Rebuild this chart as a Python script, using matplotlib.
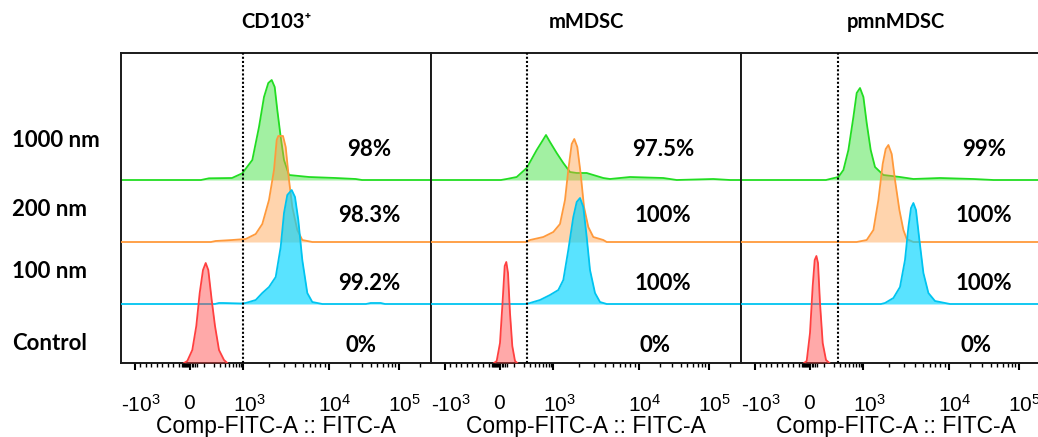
import numpy as np
import matplotlib
matplotlib.use('Agg')
import matplotlib.pyplot as plt
import matplotlib.transforms as mtransforms

plt.rcParams['mathtext.fontset'] = 'custom'
plt.rcParams['mathtext.rm'] = 'Liberation Sans'
plt.rcParams['mathtext.default'] = 'regular'

# ---- data (x in display channels, y in counts normalised to mode) ----
panels = ['CD103\u207a', 'mMDSC', 'pmnMDSC']
rows = ['1000 nm', '200 nm', '100 nm', 'Control']

cd103_1000_x = [80, 88, 111, 121.3, 131.3, 138, 143, 147.3, 150.7, 153.7, 156.3, 159.7, 163, 168, 188, 214.7, 234.7, 241]
cd103_1000_y = [0, 1.7, 2, 6.7, 20, 53, 83, 97, 100, 93, 70, 43, 20, 5, 3, 2, 1, 0]
cd103_200_x = [90, 94.7, 111.3, 124.7, 134.7, 141.3, 148, 153, 155.7, 157.3, 162, 164.7, 168, 171.3, 176.3, 181.3, 191.3]
cd103_200_y = [0, 1, 2, 3, 8, 18, 42, 72, 102, 106, 106, 95, 62, 35, 12, 2, 0]
cd103_100_x = [94, 98, 102, 120, 124.7, 134.7, 141.3, 148, 154.7, 159.7, 163, 166.3, 170.7, 174, 177.3, 181.3, 186.3, 191.3, 201.3, 245, 249.7, 254.7, 259.7, 264]
cd103_100_y = [0, 1, 1, 0.5, 1, 4, 11, 17, 27, 57, 91, 109, 114, 107, 84, 44, 11, 2, 0, 0, 1, 1, 1, 0]
cd103_ctrl_x = [63, 66.3, 71.3, 75.3, 78.7, 82, 84.7, 87.3, 90.7, 94, 98, 103, 106.3]
cd103_ctrl_y = [0, 2, 13, 37, 70, 93, 100, 93, 63, 37, 13, 3, 0]

mmdsc_1000_x = [70, 75.7, 85.7, 95.7, 105.7, 110.7, 115, 119, 125.7, 132.3, 139, 145.7, 155.7, 162.3, 172.3, 179, 199, 232.3, 245.7, 282.3, 299]
mmdsc_1000_y = [0, 1, 3, 12, 30, 38, 45, 38, 27, 17, 8, 7, 7, 5, 2, 1, 3, 2, 0, 1, 0]
mmdsc_200_x = [95, 99, 112.3, 122.3, 129, 134, 137.3, 140.7, 143.3, 146.3, 149.7, 153, 157.3, 162.3, 172.3, 175.7]
mmdsc_200_y = [0, 2, 5, 10, 18, 42, 72, 98, 103, 95, 68, 35, 15, 5, 2, 0]
mmdsc_100_x = [95, 99, 109, 119, 127.3, 132.3, 137.3, 142.3, 145.7, 149, 152.3, 155.7, 159, 164, 169, 175.7]
mmdsc_100_y = [0, 1, 4, 9, 14, 24, 54, 87, 102, 106, 97, 67, 34, 11, 2, 0]
mmdsc_ctrl_x = [63, 65.7, 69, 71.7, 73.7, 75.3, 77, 79, 81.3, 84, 86.3]
mmdsc_ctrl_y = [0, 2, 20, 63, 97, 101, 90, 50, 17, 2, 0]

pmn_1000_x = [85, 89, 97.4, 102.4, 107.4, 112.4, 115.7, 119, 122.4, 125.7, 129.7, 134, 142.4, 159, 172.4, 199, 232.4, 252.4]
pmn_1000_y = [0, 1, 3, 10, 30, 63, 87, 92, 83, 57, 30, 13, 5, 3, 1, 2, 1, 0]
pmn_200_x = [115.7, 125.7, 132.4, 137.4, 141.7, 144.7, 147.4, 150.7, 154, 158.4, 162.4, 165.7, 172.4]
pmn_200_y = [0, 2, 12, 42, 78, 93, 97, 88, 62, 32, 12, 3, 0]
pmn_100_x = [140, 144, 152.4, 159, 164, 167.4, 170, 172.4, 175, 178.4, 182.4, 187.4, 194, 209]
pmn_100_y = [0, 1, 6, 17, 44, 77, 96, 101, 94, 64, 31, 11, 3, 0]
pmn_ctrl_x = [63, 65.7, 69, 71.7, 73.7, 75.4, 77, 79, 81.7, 85, 88.4]
pmn_ctrl_y = [0, 2, 30, 77, 103, 107, 100, 60, 20, 3, 0]

gates = [122.3, 96, 97]
pct_cd103 = ['98%', '98.3%', '99.2%', '0%']
pct_mmdsc = ['97.5%', '100%', '100%', '0%']
pct_pmn = ['99%', '100%', '100%', '0%']

curves = [
    [(cd103_1000_x, cd103_1000_y), (cd103_200_x, cd103_200_y), (cd103_100_x, cd103_100_y), (cd103_ctrl_x, cd103_ctrl_y)],
    [(mmdsc_1000_x, mmdsc_1000_y), (mmdsc_200_x, mmdsc_200_y), (mmdsc_100_x, mmdsc_100_y), (mmdsc_ctrl_x, mmdsc_ctrl_y)],
    [(pmn_1000_x, pmn_1000_y), (pmn_200_x, pmn_200_y), (pmn_100_x, pmn_100_y), (pmn_ctrl_x, pmn_ctrl_y)],
]
pcts = [pct_cd103, pct_mmdsc, pct_pmn]

# ---- styling ----
offsets = [183, 121, 59, 0]
line_c = ['#22dd22', '#ff9a3c', '#00c4f0', '#ff4040']
fill_c = ['#22dd22', '#ff9a3c', '#00d4ff', '#ff4040']
fill_a = [0.42, 0.42, 0.65, 0.45]
pct_x = [248, 232, 243]
pct_y = [213, 148, 79, 18]


def chan(v):
    # biexponential-like display transform: fluorescence -> channel
    v = np.asarray(v, float)
    out = np.empty_like(v)
    m = v <= 0
    out[m] = 68.5 + 54.5 * v[m] / 1000
    m = (v > 0) & (v <= 1000)
    out[m] = 68.5 + 53.8 * np.log10(1 + 9 * v[m] / 1000)
    m = (v > 1000) & (v <= 1e4)
    out[m] = 122.3 + 85.2 * np.log10(v[m] / 1000)
    m = v > 1e4
    out[m] = 207.5 + 70 * np.log10(v[m] / 1e4)
    return out


major_v = [-1000, 0, 1000, 1e4, 1e5]
major_lbl = ['-$10^{3}$', '0', '$10^{3}$', '$10^{4}$', '$10^{5}$']
minor_v = (list(range(-900, -100, 100)) + list(range(-140, 0, 20)) + [10, 20, 30, 40]
           + list(range(100, 1000, 100)) + list(range(2000, 10000, 1000))
           + list(range(20000, 100000, 10000)) + [200000])

fig = plt.figure(figsize=(10.38, 4.37), dpi=100)
W, H = 1038, 437
lefts = [121, 431, 741]
axes = [fig.add_axes([l / W, (H - 363) / H, 310 / W, 310 / H]) for l in lefts]

for i, ax in enumerate(axes):
    ax.set_xlim(0, 310)
    ax.set_ylim(0, 310)
    for j, (xs, ys) in enumerate(curves[i]):
        xs = np.array(xs, float)
        ys = np.array(ys, float)
        if j < 3:
            xs = np.concatenate([[0], xs, [310]])
            ys = np.concatenate([[0], ys, [0]])
        off = offsets[j]
        ax.fill_between(xs, off, off + ys, color=fill_c[j], alpha=fill_a[j], lw=0, zorder=2 + j)
        ax.plot(xs, off + ys, color=line_c[j], lw=1.3, zorder=2 + j)
    ax.axvline(gates[i], color='black', ls=(0, (1, 1)), lw=1.5, zorder=10)

    for j, t in enumerate(pcts[i]):
        dx = -8 if j == 3 else 0
        ax.text(pct_x[i] + dx, pct_y[j], t, ha='center', va='center',
                fontsize=16, fontweight='bold', family=['Lato', 'DejaVu Sans'])

    ax.text(0.5, 1.1, panels[i], transform=ax.transAxes, ha='center', va='center',
            fontsize=14.5, fontweight='bold', family=['Lato', 'DejaVu Sans'])

    for s in ax.spines.values():
        s.set_linewidth(1.4)
        s.set_color('#1a1a1a')
    ax.set_yticks([])
    ax.set_xticks(chan(major_v))
    ax.set_xticklabels(major_lbl, fontsize=15, family='Liberation Sans')
    ax.set_xticks(chan(minor_v), minor=True)
    ax.tick_params(axis='x', which='major', direction='out', length=5, width=1.5, pad=17)
    ax.tick_params(axis='x', which='minor', direction='out', length=3, width=1)
    shift = mtransforms.ScaledTranslation(0.06, 0, fig.dpi_scale_trans)
    for k, lbl in enumerate(ax.get_xticklabels()):
        if k != 1:
            lbl.set_transform(lbl.get_transform() + shift)
    ax.set_xlabel('Comp-FITC-A :: FITC-A', fontsize=16.5, family='Liberation Sans', labelpad=0)

row_y = [140, 210, 272, 343]
for r, y in zip(rows, row_y):
    fig.text(12 / W, 1 - y / H, r, ha='left', va='center', fontsize=16,
             fontweight='bold', family=['Lato', 'DejaVu Sans'])

fig.savefig('out.png', dpi=100)
